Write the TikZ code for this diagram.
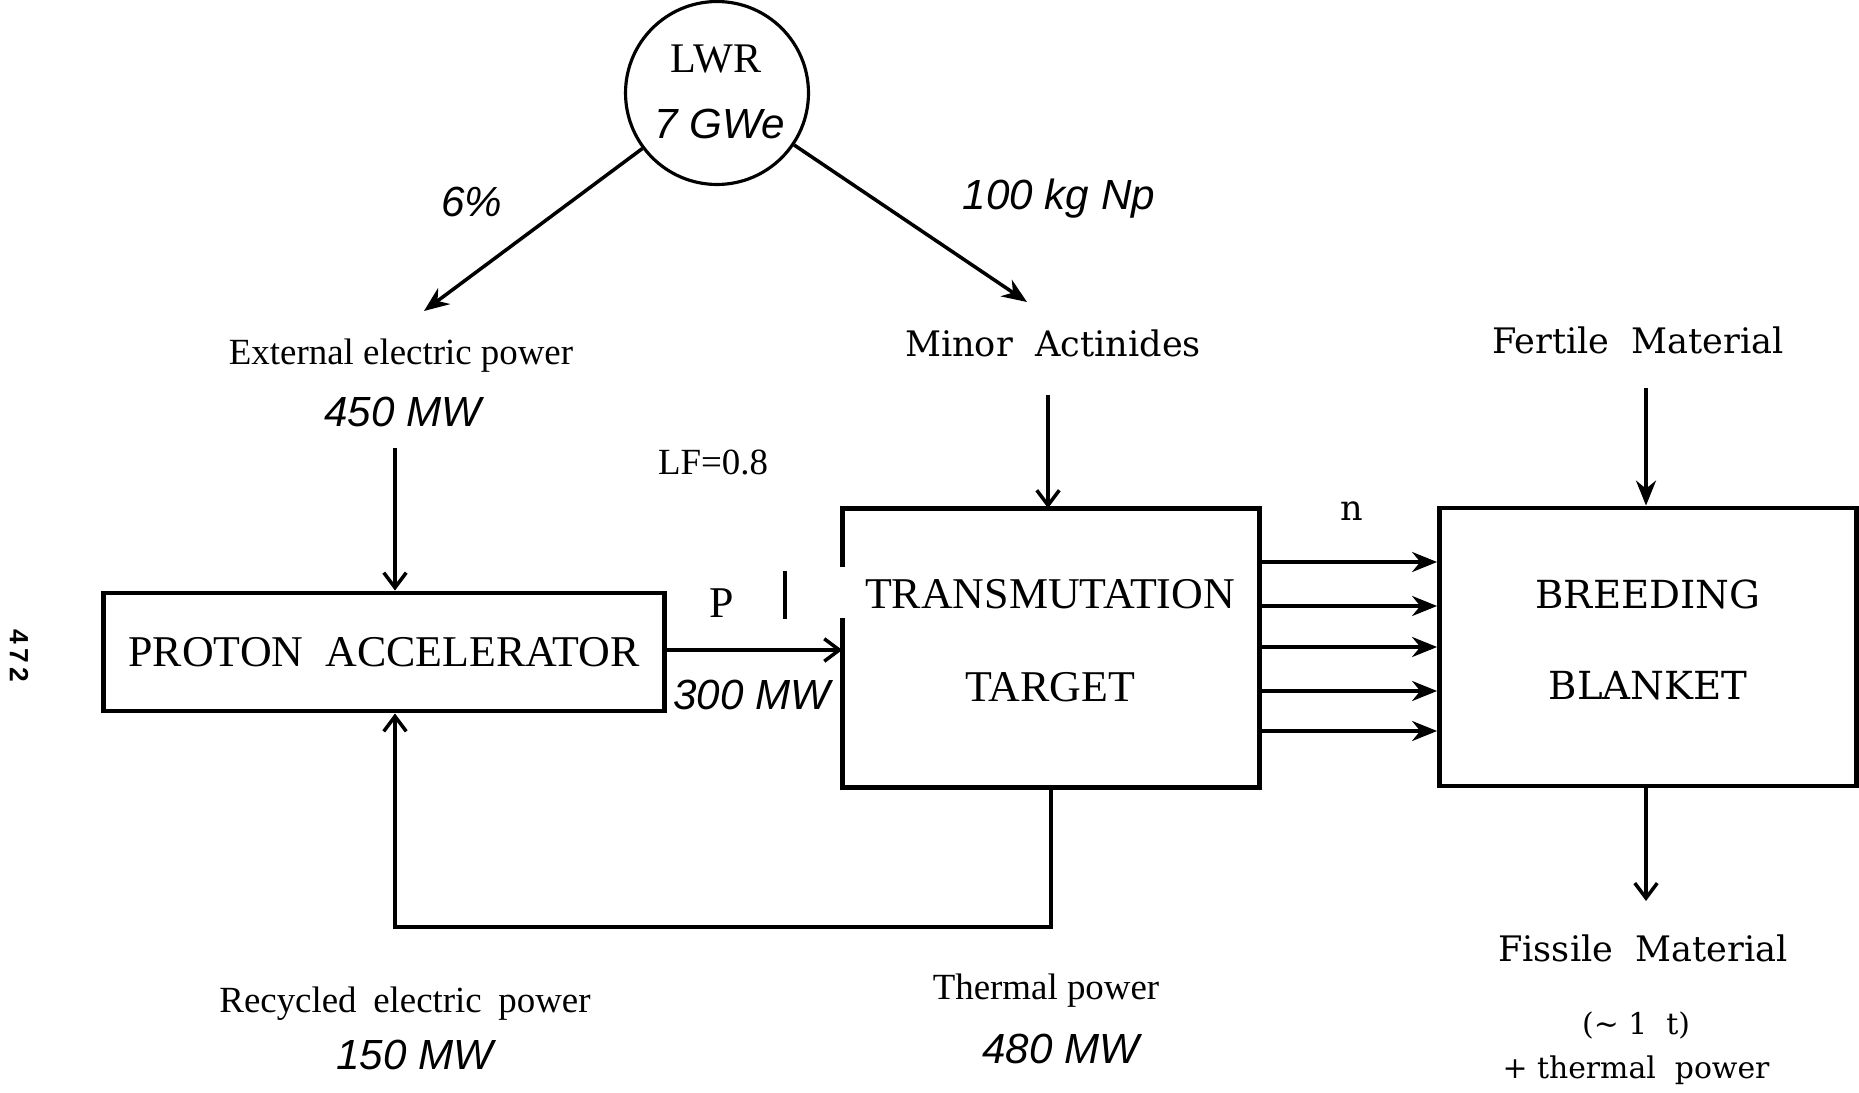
\documentclass[tikz,border=0pt]{standalone}
\usepackage{fontspec}
\setmainfont{Liberation Serif}
\newfontfamily\wideserif{DejaVu Serif}
\newfontfamily\handfont{Liberation Sans}
\usetikzlibrary{arrows.meta,positioning,calc}
\tikzset{
  box/.style={draw=black, line width=2.8pt, align=center, inner sep=0pt},
  capstxt/.style={font=\fontsize{25}{30}\selectfont, align=center},
  txt/.style={font=\fontsize{21}{25}\selectfont, inner sep=0pt},
  widetxt/.style={font=\wideserif\fontsize{20}{24}\selectfont, inner sep=0pt},
  handtxt/.style={font=\handfont\itshape\fontsize{24}{29}\selectfont, inner sep=0pt},
  arrow/.style={-{Stealth[length=5mm,width=4mm]}, line width=2pt},
  openarrow/.style={-{Straight Barb[length=3mm,width=4.5mm]}, line width=2pt}
}

\begin{document}
\begin{tikzpicture}[x=0.02cm, y=-0.02cm]
  \useasboundingbox (0,0) rectangle (1859,1092);
  \node[draw, circle, line width=1.8pt, minimum size=3.66cm] (lwr) at (717,93) {};
  \node[capstxt, font=\fontsize{24}{28}\selectfont] (lwrname) at (716,59) {LWR};
  \node[handtxt] (lwrpower) at (720,124) {7 GWe};
  \coordinate (extin) at (424,311);
  \coordinate (main) at (1027,302);
  \draw[arrow] (lwr) -- (extin);
  \draw[arrow] (lwr) -- (main);
  \node[handtxt] (share) at (472,202) {6\%};
  \node[handtxt] (npmass) at (1059,199) {100 kg Np};

  \node[txt] (ext) at (401,356) {External electric power};
  \node[handtxt] (extmw) at (403,412) {450 MW};
  \node[txt] (lf) at (713,462) {LF=0.8};
  \node[box, minimum width=11.24cm, minimum height=2.36cm, capstxt] (acc) at (384,652) {PROTON\ \ ACCELERATOR};
  \coordinate (extfeed) at (395,448);
  \draw[openarrow] (extfeed) -- (extfeed |- acc.north);

  \node[minimum width=8.34cm, minimum height=5.58cm, capstxt] (tt) at (1051,648) {};
  \node[capstxt, inner sep=0pt] (ttname) at (1050,641) {TRANSMUTATION\\[23pt]TARGET};
  \draw[line width=2.8pt] (tt.north west) ++(0,59) -- (tt.north west) -- (tt.north east) -- (tt.south east) -- (tt.south west) -- ++(0,-170);
  \node[capstxt, inner sep=0pt] (beam) at (722,603) {P};
  \draw[line width=2.8pt] (785,571) -- (785,619);
  \draw[openarrow] (acc.east) ++(0,-2) -- (tt.west |- 0,650);
  \node[handtxt] (beammw) at (752,695) {300 MW};

  \node[widetxt] (ma) at (1053,343) {Minor\ \ Actinides};
  \coordinate (mafeed) at (1048,395);
  \draw[openarrow] (mafeed) -- (mafeed |- tt.north);

  \node[box, minimum width=8.34cm, minimum height=5.56cm] (bb) at (1648,647) {};
  \node[font=\wideserif\fontsize{22}{26}\selectfont, align=center, inner sep=0pt] (bbname) at (1648,640) {BREEDING\\[26pt]BLANKET};
  \node[widetxt] (neutron) at (1352,511) {n};
  \foreach \yy in {562,606,647,691,731}
    \draw[arrow] (tt.east |- 0,\yy) -- (bb.west |- 0,\yy);
  \node[widetxt] (fert) at (1638,340) {Fertile\ \ Material};
  \coordinate (fertfeed) at (1646,388);
  \draw[arrow] (fertfeed) -- (fertfeed |- bb.north);
  \coordinate (fisout) at (1646,901);
  \draw[openarrow] (fisout |- bb.south) -- (fisout);
  \node[widetxt] (fis) at (1643,948) {Fissile\ \ Material};
  \node[widetxt, font=\wideserif\fontsize{17}{20}\selectfont] (fismass) at (1636,1025) {(\char"223C\ 1\ \ t)};
  \node[widetxt, font=\wideserif\fontsize{17}{20}\selectfont] (fisheat) at (1636,1070) {+ thermal\ \ power};

  \coordinate (fbk) at (395,927);
  \draw[openarrow] (tt.south) -- (tt.south |- fbk) -- (fbk) -- (fbk |- acc.south);
  \node[txt] (rec) at (405,1004) {Recycled\hspace{0.45em}electric\hspace{0.45em}power};
  \node[handtxt] (recmw) at (415,1055) {150 MW};
  \node[txt] (heat) at (1046,991) {Thermal power};
  \node[handtxt] (heatmw) at (1061,1049) {480 MW};

  \node[font=\handfont\bfseries\fontsize{15}{18}\selectfont, rotate=-90] (page) at (19,656) {4\,7\,2};
\end{tikzpicture}
\end{document}
